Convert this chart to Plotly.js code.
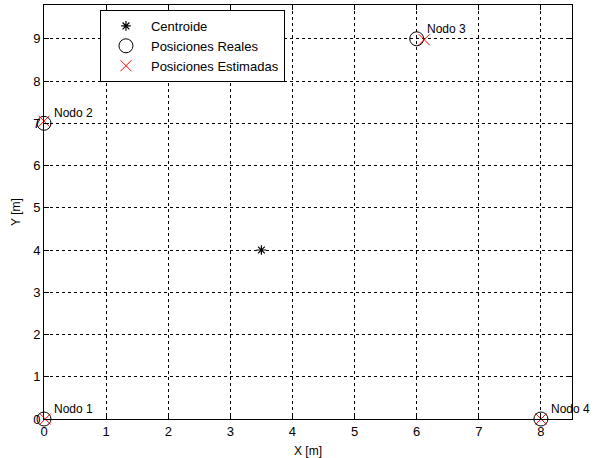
<!DOCTYPE html>
<html><head><meta charset="utf-8">
<script src="https://cdn.plot.ly/plotly-3.0.1.min.js"></script>
<style>body{margin:0;background:#fff}#plot{width:599px;height:458px}</style>
</head><body><div id="plot"></div>
<script>
const nodeNames = ["Nodo 1", "Nodo 2", "Nodo 3", "Nodo 4"];
const realX = [0, 0, 6, 8];
const realY = [0, 7, 9, 0];
const estX = [0.02, 0.0, 6.12, 8.0];
const estY = [0.0, 7.05, 8.98, 0.0];
const centroidX = [3.5];
const centroidY = [4.0];
const xTicks = [0, 1, 2, 3, 4, 5, 6, 7, 8];
const yTicks = [0, 1, 2, 3, 4, 5, 6, 7, 8, 9];

const FONT = "Liberation Sans, Arial, sans-serif";
const traces = [
  {x: centroidX, y: centroidY, mode: "markers", name: "Centroide", type: "scatter", cliponaxis: false,
   marker: {symbol: "asterisk-open", size: 8, color: "black", line: {color: "black", width: 1.2}}},
  {x: realX, y: realY, mode: "markers", name: "Posiciones Reales", type: "scatter", cliponaxis: false,
   marker: {symbol: "circle-open", size: 14, color: "black", line: {color: "black", width: 1}}},
  {x: estX, y: estY, mode: "markers", name: "Posiciones Estimadas", type: "scatter", cliponaxis: false,
   marker: {symbol: "x-thin-open", size: 11, color: "#ff0000", line: {color: "#ff0000", width: 1}}}
];

const annotations = nodeNames.map((n, i) => ({
  x: realX[i], y: realY[i], xref: "x", yref: "y", text: n, showarrow: false,
  xanchor: "left", yanchor: "bottom", xshift: 8, yshift: 1,
  font: {family: FONT, size: 12, color: "#000"}
}));

const axisCommon = {
  showline: true, linecolor: "black", linewidth: 1, mirror: "all",
  ticks: "inside", ticklen: 5, tickcolor: "black",
  showgrid: true, gridcolor: "black", gridwidth: 1, griddash: "3px,3px",
  zeroline: false, tickfont: {family: FONT, size: 13, color: "#000"}
};

const layout = {
  width: 599, height: 458,
  margin: {l: 44, r: 27, t: 5, b: 39},
  paper_bgcolor: "white", plot_bgcolor: "white",
  showlegend: true,
  legend: {x: 0.106, y: 0.988, xanchor: "left", yanchor: "top", bgcolor: "white",
           bordercolor: "black", borderwidth: 1,
           font: {family: FONT, size: 13, color: "#000"},
           tracegroupgap: 0, itemwidth: 40},
  xaxis: Object.assign({}, axisCommon, {range: [0, 8.5], tickvals: xTicks, ticktext: xTicks.map(String),
    title: {text: "X [m]", standoff: 10, font: {family: FONT, size: 12, color: "#000"}}}),
  yaxis: Object.assign({}, axisCommon, {range: [0, 9.8], tickvals: yTicks, ticktext: yTicks.map(String),
    title: {text: "Y [m]", standoff: 9, font: {family: FONT, size: 12, color: "#000"}}}),
  annotations: annotations
};

Plotly.newPlot("plot", traces, layout, {displayModeBar: false, staticPlot: true});
</script></body></html>
